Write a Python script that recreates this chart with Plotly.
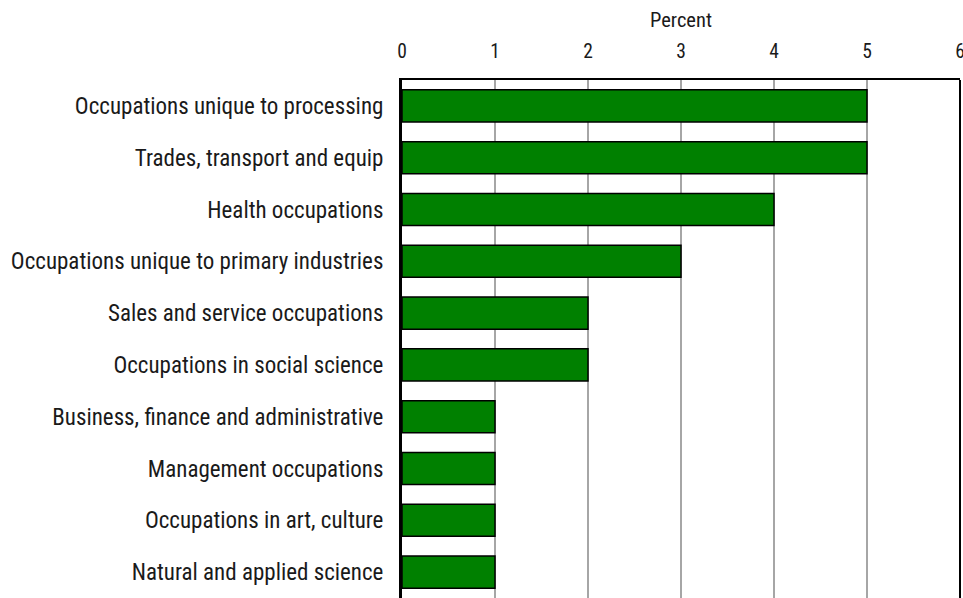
import plotly.graph_objects as go

categories = [
    "Occupations unique to processing",
    "Trades, transport and equip",
    "Health occupations",
    "Occupations unique to primary industries",
    "Sales and service occupations",
    "Occupations in social science",
    "Business, finance and administrative",
    "Management occupations",
    "Occupations in art, culture",
    "Natural and applied science",
]
values = [5, 5, 4, 3, 2, 2, 1, 1, 1, 1]
x_ticks = [0, 1, 2, 3, 4, 5, 6]

FONT = "Roboto Condensed, DejaVu Sans Condensed, sans-serif"

fig = go.Figure(go.Bar(
    x=values, y=categories, orientation="h",
    marker=dict(color="#008000", line=dict(color="#000000", width=1.5)),
    width=0.62,
))

fig.update_layout(
    width=963, height=598,
    margin=dict(l=402, r=3, t=80, b=0),
    plot_bgcolor="white", paper_bgcolor="white",
    font=dict(family=FONT, size=22, color="#1a1a1a"),
    showlegend=False,
    shapes=[dict(type="line", xref="paper", yref="paper", x0=1, x1=1, y0=0, y1=1,
                 line=dict(color="black", width=2))],
)
fig.update_xaxes(
    side="top", range=[0, 6], tickvals=x_ticks, ticktext=[str(t) for t in x_ticks],
    showgrid=True, gridcolor="#a6a6a6", gridwidth=1.5,
    showline=True, linecolor="black", linewidth=2,
    ticks="", zeroline=False, ticklabelstandoff=12, automargin=False,
    ticklabeloverflow="allow",
    title=dict(text="Percent", font=dict(size=20.5), standoff=7),
    tickfont=dict(size=19.5),
)
fig.update_yaxes(
    categoryorder="array", categoryarray=categories, autorange=False,
    range=[len(categories) - 0.5, -0.5],
    showline=True, linecolor="black", linewidth=3,
    ticks="", showgrid=False, ticklabelstandoff=11, automargin=False,
    tickfont=dict(size=23),
)

fig.write_html(
    "out.html",
    config={"displayModeBar": False},
    post_script="document.body.style.margin='0';document.body.style.overflow='hidden';",
)
